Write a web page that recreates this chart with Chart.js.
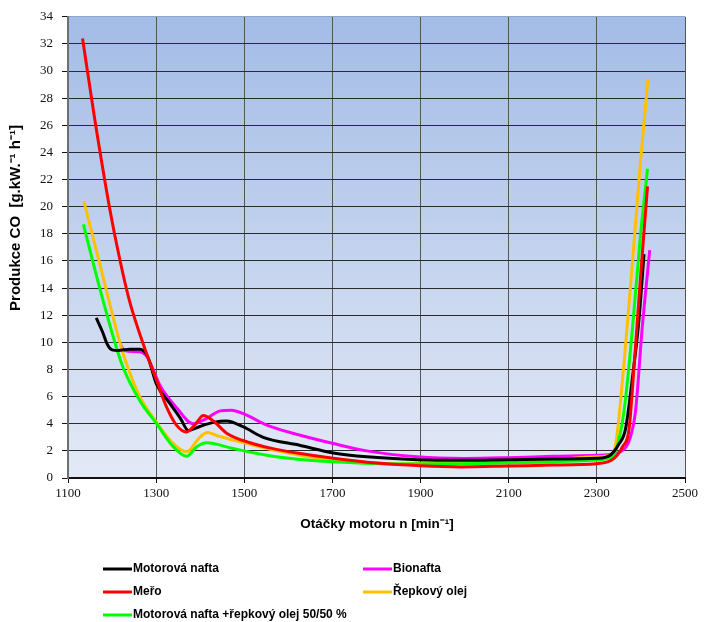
<!DOCTYPE html>
<html><head><meta charset="utf-8">
<script src="https://cdn.jsdelivr.net/npm/chart.js@4.4.1/dist/chart.umd.min.js"></script>
<style>html,body{margin:0;padding:0;background:#fff;} canvas{display:block;}</style>
</head><body>
<canvas id="c" width="704" height="622"></canvas>
<script>
// ---- Data (engine speed [min-1] / CO production [g.kW-1.h-1]) ----
const xAxisTitle = 'Otáčky motoru n [min⁻¹]';
const yAxisTitle = 'Produkce CO  [g.kW.⁻¹ h⁻¹]';
const xMin = 1100, xMax = 2500, xStep = 200;
const yMin = 0, yMax = 34, yStep = 2;

const seriesLabels = ['Motorová nafta', 'Bionafta', 'Meřo', 'Řepkový olej', 'Motorová nafta +řepkový olej 50/50 %'];
const seriesColors = ['#000000', '#ff00ff', '#ff0000', '#ffc000', '#00ff00'];

const rpmNafta = [1164, 1178, 1190, 1200, 1214, 1240, 1263, 1280, 1301, 1331, 1355, 1373, 1399, 1430, 1460, 1498, 1543, 1627, 1702, 1778, 1892, 1990, 2100, 2200, 2300, 2331, 2350, 2365, 2380, 2395, 2407];
const coNafta  = [11.8, 10.8, 9.8, 9.45, 9.4, 9.5, 9.5, 9.0, 6.9, 5.5, 4.4, 3.5, 3.8, 4.1, 4.2, 3.76, 3.0, 2.4, 1.85, 1.56, 1.35, 1.3, 1.35, 1.4, 1.45, 1.7, 2.5, 3.6, 7.2, 11.5, 16.5];

const rpmBionafta = [1218, 1228, 1263, 1280, 1309, 1346, 1384, 1415, 1445, 1471, 1498, 1551, 1627, 1702, 1778, 1892, 2000, 2100, 2200, 2300, 2324, 2354, 2376, 2388, 2403, 2420];
const coBionafta  = [9.9, 9.4, 9.3, 8.9, 6.8, 5.2, 4.0, 4.4, 4.95, 5.0, 4.74, 3.9, 3.15, 2.54, 2.0, 1.56, 1.44, 1.5, 1.6, 1.68, 1.72, 1.95, 3.0, 5.0, 11.1, 16.8];

const rpmMero = [1133, 1160, 1195, 1217, 1240, 1278, 1301, 1324, 1346, 1369, 1390, 1407, 1430, 1460, 1513, 1560, 1627, 1702, 1800, 1900, 1990, 2100, 2200, 2300, 2339, 2358, 2373, 2385, 2400, 2415];
const coMero  = [32.4, 26.6, 19.8, 16.2, 13.0, 9.2, 7.2, 5.2, 3.9, 3.4, 4.0, 4.6, 4.2, 3.3, 2.6, 2.2, 1.8, 1.45, 1.1, 0.9, 0.82, 0.88, 0.95, 1.05, 1.44, 2.3, 3.6, 8.5, 15.2, 21.5];

const rpmRepka = [1136, 1172, 1195, 1215, 1233, 1263, 1301, 1339, 1369, 1399, 1416, 1440, 1475, 1551, 1627, 1702, 1854, 1990, 2100, 2200, 2300, 2331, 2343, 2362, 2381, 2399, 2416];
const coRepka  = [20.4, 15.8, 12.8, 10.3, 8.4, 6.0, 4.1, 2.54, 1.93, 3.0, 3.35, 3.1, 2.8, 2.17, 1.68, 1.32, 1.05, 1.1, 1.2, 1.35, 1.56, 1.68, 2.54, 8.6, 16.0, 23.3, 29.4];

const rpmMix = [1135, 1172, 1210, 1225, 1263, 1301, 1339, 1369, 1392, 1414, 1475, 1551, 1627, 1702, 1854, 1990, 2100, 2200, 2300, 2324, 2343, 2362, 2381, 2399, 2415];
const coMix  = [18.7, 14.0, 9.6, 8.15, 5.7, 4.0, 2.3, 1.6, 2.3, 2.6, 2.17, 1.68, 1.37, 1.2, 1.03, 1.05, 1.1, 1.2, 1.32, 1.44, 2.05, 5.0, 11.1, 17.9, 22.8];

const seriesX = [rpmNafta, rpmBionafta, rpmMero, rpmRepka, rpmMix];
const seriesY = [coNafta, coBionafta, coMero, coRepka, coMix];
const drawOrder = [1, 4, 0, 3, 2]; // lower = on top
// legend grid positions (col,row)
const legendSlots = [[0,0],[1,0],[0,1],[1,1],[0,2]];

const datasets = seriesLabels.map((lab, i) => ({
  label: lab,
  data: seriesX[i].map((x, k) => ({x: x, y: seriesY[i][k]})),
  borderColor: seriesColors[i],
  backgroundColor: seriesColors[i],
  borderWidth: 3,
  pointRadius: 0,
  fill: false,
  cubicInterpolationMode: 'monotone',
  borderCapStyle: 'butt',
  order: drawOrder[i]
}));

const bgPlugin = {
  id: 'bg',
  beforeDraw(chart) {
    const {ctx, chartArea: a} = chart;
    const g = ctx.createLinearGradient(0, a.top, 0, a.bottom);
    g.addColorStop(0, '#a3bce6');
    g.addColorStop(1, '#e3e9f6');
    ctx.save();
    ctx.fillStyle = g;
    ctx.fillRect(a.left, a.top, a.right - a.left, a.bottom - a.top);
    ctx.restore();
  },
  afterDraw(chart) {
    const {ctx} = chart;
    ctx.save();
    ctx.fillStyle = '#000';
    ctx.textAlign = 'center';
    ctx.textBaseline = 'middle';
    ctx.font = 'bold 13.5px "Liberation Sans", Arial, sans-serif';
    ctx.fillText(xAxisTitle, 377, 524);
    ctx.font = 'bold 15px "Liberation Sans", Arial, sans-serif';
    ctx.translate(16, 218);
    ctx.rotate(-Math.PI / 2);
    ctx.fillText(yAxisTitle, 0, 0);
    ctx.restore();
    // legend
    ctx.save();
    ctx.font = 'bold 12px "Liberation Sans", Arial, sans-serif';
    ctx.textBaseline = 'middle';
    ctx.textAlign = 'left';
    const colX = [103, 363], rowY = [569, 592, 615];
    chart.data.datasets.forEach((ds, i) => {
      const [c, r] = legendSlots[i];
      const x = colX[c], y = rowY[r];
      ctx.strokeStyle = ds.borderColor;
      ctx.lineWidth = 3;
      ctx.beginPath();
      ctx.moveTo(x, y);
      ctx.lineTo(x + 29, y);
      ctx.stroke();
      ctx.fillStyle = '#000';
      ctx.fillText(ds.label, x + 30, y);
    });
    ctx.restore();
  }
};

new Chart(document.getElementById('c'), {
  type: 'line',
  data: { datasets: datasets },
  plugins: [bgPlugin],
  options: {
    responsive: false,
    animation: false,
    layout: { padding: { top: 14, right: 19, left: 0, bottom: 0 } },
    plugins: { legend: { display: false }, tooltip: { enabled: false } },
    scales: {
      x: {
        type: 'linear', min: xMin, max: xMax,
        afterFit: s => { s.height = 144; },
        ticks: { stepSize: xStep, color: '#111', padding: 3,
          callback: v => String(v),
          font: { family: '"Liberation Serif", "Times New Roman", serif', size: 13 } },
        grid: { color: '#555', lineWidth: 1, tickLength: 5, tickColor: '#111' },
        border: { color: '#111', width: 2 }
      },
      y: {
        min: yMin, max: yMax,
        afterFit: s => { s.width = 68; },
        ticks: { stepSize: yStep, color: '#111', padding: 9,
          callback: v => String(v),
          font: { family: '"Liberation Serif", "Times New Roman", serif', size: 13 } },
        grid: { color: ctx => ctx.tick && ctx.tick.value === yMax ? '#8da6d0' : '#2b2b2b', lineWidth: 1, tickLength: 6, tickColor: '#111' },
        border: { color: '#6f6f6f', width: 2 }
      }
    }
  }
});
</script>
</body></html>
